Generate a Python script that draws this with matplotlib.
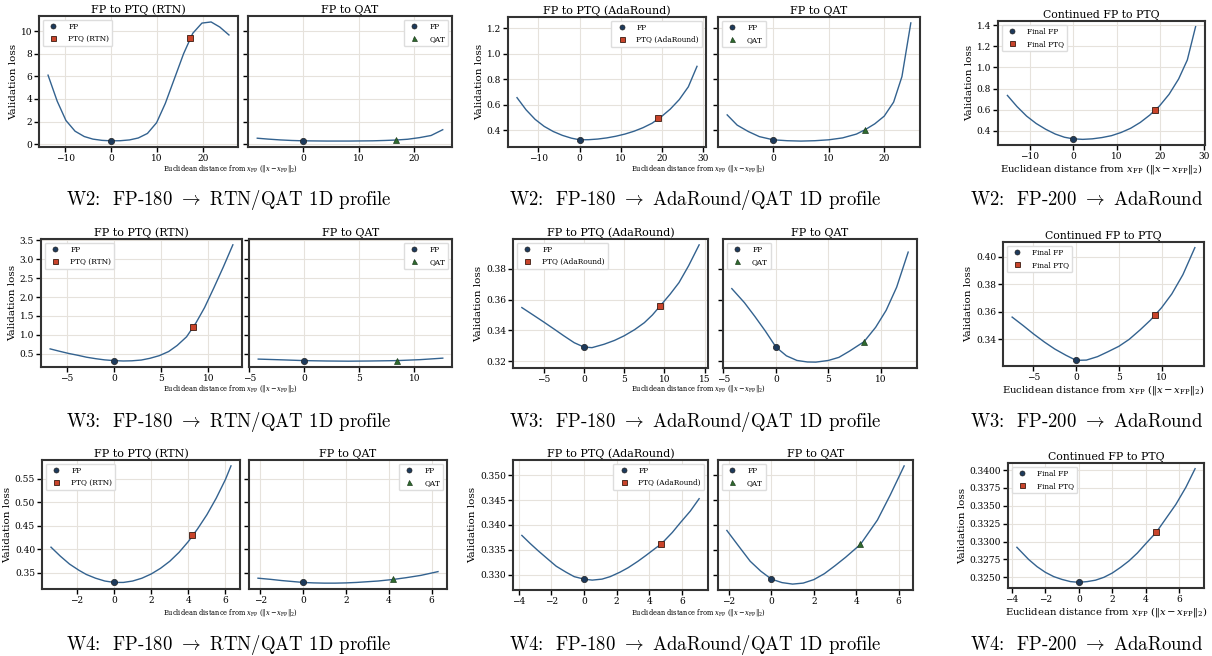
import numpy as np
import matplotlib
matplotlib.use('Agg')
import matplotlib.pyplot as plt
from matplotlib.ticker import MultipleLocator

plt.rcParams['font.family'] = 'serif'
plt.rcParams['font.serif'] = ['DejaVu Serif']
plt.rcParams['mathtext.fontset'] = 'dejavuserif'
plt.rcParams['axes.edgecolor'] = '#333333'
plt.rcParams['axes.linewidth'] = 1.5
plt.rcParams['grid.color'] = '#e6e2dc'
plt.rcParams['grid.linewidth'] = 0.8
plt.rcParams['xtick.major.width'] = 1.0
plt.rcParams['ytick.major.width'] = 1.0
plt.rcParams['xtick.major.size'] = 3.5
plt.rcParams['ytick.major.size'] = 3.5

#%% data

# W2, FP-180 -> RTN
w2_rtn_x = [-13.8, -11.8, -9.9, -7.9, -5.9, -4.0, -2.0, 0.0, 2.0, 4.0, 5.9, 7.9, 9.9, 11.8, 13.8, 15.8, 17.8, 19.8, 21.8, 23.7, 25.7]
w2_rtn_y = [6.1, 3.8, 2.1, 1.15, 0.68, 0.45, 0.34, 0.30, 0.31, 0.38, 0.55, 0.95, 1.9, 3.6, 5.8, 8.0, 9.8, 10.7, 10.8, 10.35, 9.65]
w2_rtn_fp = 0.30
w2_rtn_end = (17.2, 9.35)
w2_rtn_qat_x = [-8.3, -6.3, -4.2, -2.1, 0.0, 2.1, 4.2, 6.3, 8.4, 10.4, 12.5, 14.6, 16.7, 18.8, 20.9, 23.0, 25.1]
w2_rtn_qat_y = [0.53, 0.45, 0.38, 0.33, 0.30, 0.29, 0.28, 0.28, 0.28, 0.29, 0.30, 0.33, 0.37, 0.44, 0.58, 0.77, 1.28]
w2_rtn_qat_end = (16.7, 0.38)

# W2, FP-180 -> AdaRound
w2_ada_x = [-15.2, -13.0, -10.8, -8.6, -6.4, -4.2, -2.0, 0.0, 2.2, 4.4, 6.6, 8.8, 11.0, 13.2, 15.4, 17.6, 19.8, 22.0, 24.2, 26.4, 28.5]
w2_ada_y = [0.655, 0.56, 0.485, 0.43, 0.39, 0.36, 0.338, 0.325, 0.326, 0.331, 0.34, 0.353, 0.37, 0.392, 0.42, 0.455, 0.505, 0.565, 0.64, 0.74, 0.90]
w2_ada_fp = 0.325
w2_ada_end = (19.1, 0.493)
w2_ada_qat_x = [-8.3, -6.5, -4.5, -2.5, 0.0, 2.5, 5.0, 7.5, 10.0, 12.5, 15.0, 16.6, 18.3, 20.0, 21.7, 23.2, 24.8]
w2_ada_qat_y = [0.52, 0.44, 0.39, 0.35, 0.325, 0.318, 0.315, 0.318, 0.325, 0.34, 0.37, 0.405, 0.45, 0.51, 0.62, 0.82, 1.24]
w2_ada_qat_end = (16.6, 0.405)

# W2, FP-200 -> AdaRound
w2_cont_x = [-15.1, -12.9, -10.7, -8.5, -6.3, -4.1, -2.0, 0.0, 2.2, 4.4, 6.6, 8.8, 11.0, 13.2, 15.4, 17.6, 19.8, 22.0, 24.2, 26.2, 28.1]
w2_cont_y = [0.735, 0.63, 0.54, 0.47, 0.415, 0.37, 0.34, 0.325, 0.32, 0.325, 0.337, 0.355, 0.385, 0.425, 0.48, 0.55, 0.635, 0.745, 0.89, 1.07, 1.385]
w2_cont_fp = 0.325
w2_cont_end = (18.7, 0.593)

# W3, FP-180 -> RTN
w3_rtn_x = [-6.75, -5.8, -4.8, -3.8, -2.9, -1.9, -1.0, 0.0, 1.0, 1.9, 2.9, 3.8, 4.8, 5.8, 6.7, 7.7, 8.7, 9.6, 10.6, 11.6, 12.6]
w3_rtn_y = [0.63, 0.57, 0.51, 0.46, 0.41, 0.37, 0.34, 0.32, 0.31, 0.315, 0.335, 0.38, 0.45, 0.56, 0.72, 0.95, 1.32, 1.72, 2.25, 2.8, 3.38]
w3_rtn_fp = 0.32
w3_rtn_end = (8.34, 1.2)
w3_rtn_qat_x = [-4.2, -2.0, 0.0, 2.0, 4.0, 6.0, 8.4, 10.5, 12.6]
w3_rtn_qat_y = [0.36, 0.34, 0.32, 0.31, 0.305, 0.31, 0.32, 0.345, 0.385]
w3_rtn_qat_end = (8.4, 0.32)

# W3, FP-180 -> AdaRound
w3_ada_x = [-7.7, -6.3, -5.0, -3.6, -2.5, -1.2, 0.0, 1.0, 2.5, 3.8, 5.0, 6.3, 7.5, 8.5, 9.5, 10.7, 11.8, 13.0, 14.3]
w3_ada_y = [0.3548, 0.350, 0.3455, 0.3405, 0.3365, 0.332, 0.3292, 0.3288, 0.331, 0.3335, 0.3365, 0.3405, 0.345, 0.350, 0.3561, 0.3635, 0.371, 0.382, 0.3955]
w3_ada_fp = 0.3292
w3_ada_end = (9.47, 0.3561)
w3_ada_qat_x = [-4.2, -3.0, -2.0, -1.0, 0.0, 1.0, 2.0, 3.0, 3.8, 5.0, 6.0, 7.0, 8.4, 9.5, 10.5, 11.5, 12.6]
w3_ada_qat_y = [0.3671, 0.358, 0.349, 0.3395, 0.3292, 0.3235, 0.3205, 0.3195, 0.3194, 0.3205, 0.3225, 0.3265, 0.3327, 0.342, 0.353, 0.368, 0.3908]
w3_ada_qat_end = (8.36, 0.3327)

# W3, FP-200 -> AdaRound
w3_cont_x = [-7.5, -6.2, -5.0, -3.7, -2.5, -1.2, 0.0, 1.2, 2.5, 3.7, 5.0, 6.2, 7.5, 8.7, 10.0, 11.2, 12.5, 13.9]
w3_cont_y = [0.3562, 0.350, 0.344, 0.338, 0.333, 0.3285, 0.3248, 0.325, 0.3275, 0.331, 0.335, 0.340, 0.347, 0.354, 0.363, 0.373, 0.387, 0.4066]
w3_cont_fp = 0.3248
w3_cont_end = (9.25, 0.3579)

# W4, FP-180 -> RTN
w4_rtn_x = [-3.4, -2.9, -2.4, -1.9, -1.5, -1.0, -0.5, 0.0, 0.5, 1.0, 1.5, 2.0, 2.5, 3.0, 3.5, 4.0, 4.5, 5.0, 5.5, 6.0, 6.3]
w4_rtn_y = [0.404, 0.385, 0.368, 0.355, 0.346, 0.338, 0.332, 0.329, 0.329, 0.332, 0.338, 0.347, 0.359, 0.374, 0.393, 0.416, 0.443, 0.473, 0.508, 0.548, 0.577]
w4_rtn_fp = 0.329
w4_rtn_end = (4.2, 0.4297)
w4_rtn_qat_x = [-2.1, -1.5, -1.0, -0.5, 0.0, 0.5, 1.0, 1.5, 2.0, 2.5, 3.0, 3.5, 4.2, 4.8, 5.5, 6.3]
w4_rtn_qat_y = [0.338, 0.3355, 0.333, 0.331, 0.329, 0.328, 0.3275, 0.3275, 0.328, 0.329, 0.3305, 0.332, 0.3353, 0.339, 0.344, 0.352]
w4_rtn_qat_end = (4.2, 0.3353)

# W4, FP-180 -> AdaRound
w4_ada_x = [-3.8, -3.3, -2.8, -2.2, -1.7, -1.1, -0.6, 0.0, 0.5, 1.1, 1.6, 2.2, 2.7, 3.3, 3.8, 4.4, 4.7, 5.4, 5.9, 6.5, 7.04]
w4_ada_y = [0.3379, 0.3363, 0.3348, 0.3331, 0.3317, 0.3305, 0.3296, 0.3291, 0.3289, 0.3291, 0.3296, 0.3305, 0.3314, 0.3327, 0.3339, 0.3354, 0.3361, 0.3385, 0.3405, 0.3428, 0.3453]
w4_ada_fp = 0.3291
w4_ada_end = (4.69, 0.3361)
w4_ada_qat_x = [-2.1, -1.5, -1.0, -0.5, 0.0, 0.5, 1.0, 1.5, 2.0, 2.5, 3.0, 3.5, 4.2, 5.0, 5.6, 6.26]
w4_ada_qat_y = [0.3389, 0.3355, 0.3327, 0.3307, 0.3291, 0.3284, 0.3281, 0.3283, 0.3290, 0.3302, 0.3318, 0.3335, 0.3361, 0.3410, 0.3460, 0.3519]
w4_ada_qat_end = (4.19, 0.3361)

# W4, FP-200 -> AdaRound
w4_cont_x = [-3.7, -3.0, -2.5, -2.0, -1.5, -1.0, -0.5, 0.0, 0.5, 1.0, 1.5, 2.0, 2.5, 3.0, 3.5, 4.0, 4.63, 5.2, 5.8, 6.4, 6.95]
w4_cont_y = [0.3292, 0.3275, 0.3265, 0.3257, 0.3251, 0.3247, 0.3244, 0.3243, 0.3244, 0.3246, 0.3250, 0.3256, 0.3264, 0.3273, 0.3284, 0.3297, 0.3313, 0.3332, 0.3352, 0.3376, 0.3402]
w4_cont_fp = 0.3243
w4_cont_end = (4.63, 0.3313)

captions_rtn = ['W2:  FP-180 $\\rightarrow$ RTN/QAT 1D profile',
                'W3:  FP-180 $\\rightarrow$ RTN/QAT 1D profile',
                'W4:  FP-180 $\\rightarrow$ RTN/QAT 1D profile']
captions_ada = ['W2:  FP-180 $\\rightarrow$ AdaRound/QAT 1D profile',
                'W3:  FP-180 $\\rightarrow$ AdaRound/QAT 1D profile',
                'W4:  FP-180 $\\rightarrow$ AdaRound/QAT 1D profile']
captions_cont = ['W2:  FP-200 $\\rightarrow$ AdaRound',
                 'W3:  FP-200 $\\rightarrow$ AdaRound',
                 'W4:  FP-200 $\\rightarrow$ AdaRound']

#%% styling
LINE = '#33628f'
FP_C = '#1d3a5c'
PTQ_C = '#c9442b'
QAT_C = '#2e6b2e'
xlab = r'Euclidean distance from $x_{\rm FP}$ ($\Vert x - x_{\rm FP}\Vert_2$)'

W, H = 1212, 656
fig = plt.figure(figsize=(W / 100, H / 100), dpi=100)


def box(l, t, r, b, sharey=None):
    return fig.add_axes([l / W, 1 - b / H, (r - l) / W, (b - t) / H], sharey=sharey)


def draw(ax, x, y, fp, end, kind, loc, lab_fp, lab_end, title, xstep, ystep=None, tfs=8):
    ax.plot(x, y, color=LINE, lw=1.0, zorder=2)
    ax.plot([0], [fp], 'o', ms=4.5, color=FP_C, mec='#222222', mew=0.5, zorder=3, label=lab_fp)
    if kind == 'ptq':
        ax.plot([end[0]], [end[1]], 's', ms=4.5, color=PTQ_C, mec='#3a1a10', mew=0.6, zorder=3, label=lab_end)
    else:
        ax.plot([end[0]], [end[1]], '^', ms=4.5, color=QAT_C, mec='#1e3d1e', mew=0.5, zorder=3, label=lab_end)
    ax.grid(True)
    ax.set_axisbelow(True)
    ax.set_title(title, fontsize=tfs, pad=2)
    ax.xaxis.set_major_locator(MultipleLocator(xstep))
    if ystep is not None:
        ax.yaxis.set_major_locator(MultipleLocator(ystep))
    ax.tick_params(labelsize=6.5, pad=1.5)
    ax.legend(loc=loc, fontsize=5.3, frameon=True, handletextpad=1.0, markerscale=0.8,
              borderpad=0.45, labelspacing=0.5, edgecolor='#dddddd', framealpha=1)


rows = [
    dict(rtn=(w2_rtn_x, w2_rtn_y, w2_rtn_fp, w2_rtn_end), rtnq=(w2_rtn_qat_x, w2_rtn_qat_y, w2_rtn_fp, w2_rtn_qat_end),
         ada=(w2_ada_x, w2_ada_y, w2_ada_fp, w2_ada_end), adaq=(w2_ada_qat_x, w2_ada_qat_y, w2_ada_fp, w2_ada_qat_end),
         cont=(w2_cont_x, w2_cont_y, w2_cont_fp, w2_cont_end),
         boxes=[(39, 16, 238, 147), (248, 16, 452, 147), (508, 17, 706, 147), (718, 17, 920, 147), (998, 21, 1205, 145)],
         xs=(10, 10, 10), ys=(2, 0.2, 0.2),
         locs=('upper left', 'upper right', 'upper right', 'upper left'),
         xl_y=169, cap_y=200),
    dict(rtn=(w3_rtn_x, w3_rtn_y, w3_rtn_fp, w3_rtn_end), rtnq=(w3_rtn_qat_x, w3_rtn_qat_y, w3_rtn_fp, w3_rtn_qat_end),
         ada=(w3_ada_x, w3_ada_y, w3_ada_fp, w3_ada_end), adaq=(w3_ada_qat_x, w3_ada_qat_y, w3_ada_fp, w3_ada_qat_end),
         cont=(w3_cont_x, w3_cont_y, w3_cont_fp, w3_cont_end),
         boxes=[(41, 239, 242, 367), (249, 239, 452, 367), (513, 239, 708, 368), (723, 239, 917, 368), (1003, 242, 1204, 366)],
         xs=(5, 5, 5), ys=(0.5, 0.02, 0.02),
         locs=('upper left', 'upper right', 'upper left', 'upper left'),
         xl_y=389, cap_y=422),
    dict(rtn=(w4_rtn_x, w4_rtn_y, w4_rtn_fp, w4_rtn_end), rtnq=(w4_rtn_qat_x, w4_rtn_qat_y, w4_rtn_fp, w4_rtn_qat_end),
         ada=(w4_ada_x, w4_ada_y, w4_ada_fp, w4_ada_end), adaq=(w4_ada_qat_x, w4_ada_qat_y, w4_ada_fp, w4_ada_qat_end),
         cont=(w4_cont_x, w4_cont_y, w4_cont_fp, w4_cont_end),
         boxes=[(42, 460, 240, 589), (249, 460, 447, 589), (513, 460, 708, 590), (718, 460, 913, 590), (1008, 463, 1204, 588)],
         xs=(2, 2, 2), ys=(0.05, 0.005, 0.0025),
         locs=('upper left', 'upper right', 'upper right', 'upper left'),
         xl_y=612, cap_y=645),
]

for i, r in enumerate(rows):
    b = r['boxes']
    # RTN pair
    a1 = box(*b[0])
    a2 = box(*b[1], sharey=a1)
    draw(a1, *r['rtn'], 'ptq', r['locs'][0], 'FP', 'PTQ (RTN)', 'FP to PTQ (RTN)', r['xs'][0], r['ys'][0])
    draw(a2, *r['rtnq'], 'qat', r['locs'][1], 'FP', 'QAT', 'FP to QAT', r['xs'][0], r['ys'][0])
    a2.tick_params(labelleft=False)
    a1.set_ylabel('Validation loss', fontsize=7.5, labelpad=2)
    fig.text(230 / W, 1 - r['xl_y'] / H, xlab, fontsize=4.8, ha='center', va='center')
    fig.text(229 / W, 1 - r['cap_y'] / H, captions_rtn[i], fontsize=13.5, family='cmr10',
             math_fontfamily='cm', ha='center', va='center')

    # AdaRound pair
    b1 = box(*b[2])
    b2 = box(*b[3], sharey=b1)
    draw(b1, *r['ada'], 'ptq', r['locs'][2], 'FP', 'PTQ (AdaRound)', 'FP to PTQ (AdaRound)', r['xs'][1], r['ys'][1])
    draw(b2, *r['adaq'], 'qat', r['locs'][3], 'FP', 'QAT', 'FP to QAT', r['xs'][1], r['ys'][1])
    b2.tick_params(labelleft=False)
    b1.set_ylabel('Validation loss', fontsize=7.5, labelpad=2)
    fig.text(698 / W, 1 - r['xl_y'] / H, xlab, fontsize=4.8, ha='center', va='center')
    fig.text(695 / W, 1 - r['cap_y'] / H, captions_ada[i], fontsize=13.5, family='cmr10',
             math_fontfamily='cm', ha='center', va='center')

    # continued FP-200
    c = box(*b[4])
    draw(c, *r['cont'], 'ptq', 'upper left', 'Final FP', 'Final PTQ', 'Continued FP to PTQ', r['xs'][2], r['ys'][2], tfs=7.8)
    c.set_ylabel('Validation loss', fontsize=7.5, labelpad=2)
    c.set_xlabel(xlab, fontsize=7.2, labelpad=1)
    fig.text(1087 / W, 1 - r['cap_y'] / H, captions_cont[i], fontsize=13.5, family='cmr10',
             math_fontfamily='cm', ha='center', va='center')

fig.savefig('out.png', dpi=100)
